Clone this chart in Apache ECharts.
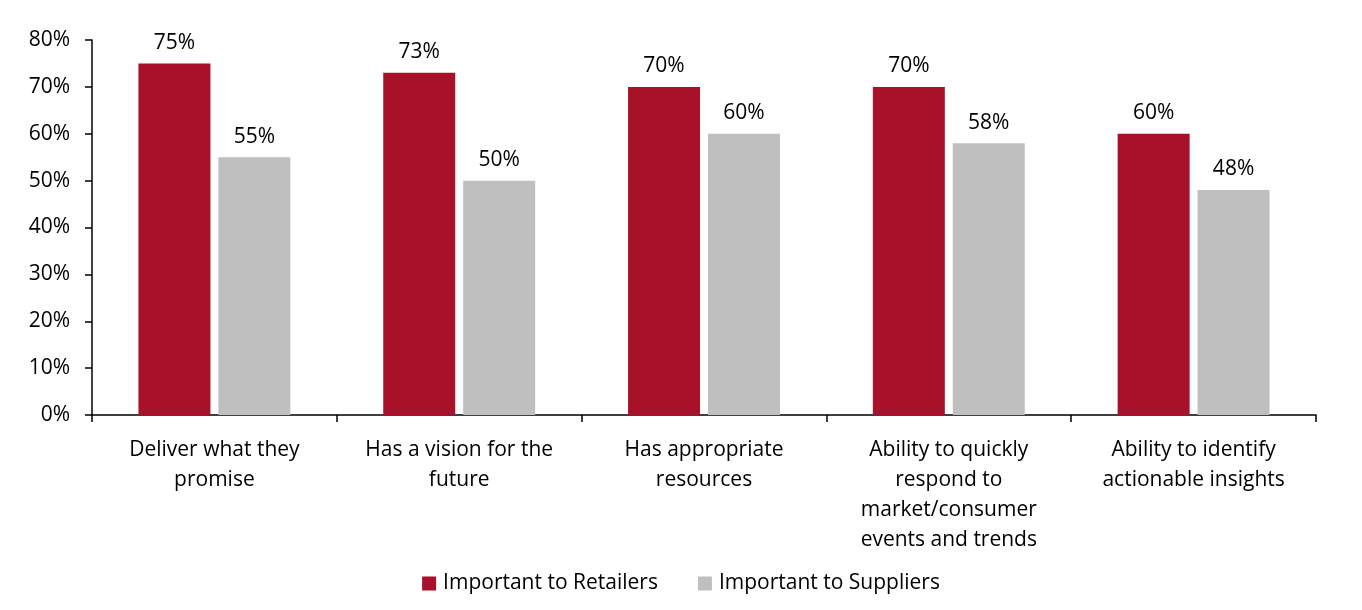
<!DOCTYPE html>
<html><head><meta charset="utf-8">
<script src="https://cdn.jsdelivr.net/npm/echarts@6/dist/echarts.min.js"></script>
<style>html,body{margin:0;padding:0;background:#fff}#c{width:1362px;height:610px}</style>
</head><body><div id="c"></div>
<script>
const categories = ["Deliver what they\npromise", "Has a vision for the\nfuture", "Has appropriate\nresources", "Ability to quickly\nrespond to\nmarket/consumer\nevents and trends", "Ability to identify\nactionable insights"];
const retailers = [75, 73, 70, 70, 60];
const suppliers = [55, 50, 60, 58, 48];
const seriesNames = ["Important to Retailers", "Important to Suppliers"];
const font = "'Open Sans', 'Liberation Sans', sans-serif";
const fs = 21;
const chart = echarts.init(document.getElementById('c'));
const lbl = {show:true, position:'top', distance:10, formatter:'{c}%', fontSize:fs, color:'#000', fontFamily:font};
chart.setOption({
  animation:false,
  textStyle:{fontFamily:font},
  grid:{left:92, right:46, top:40, bottom:195, containLabel:false},
  legend:{bottom:11, left:'center', itemWidth:14, itemHeight:14, itemGap:40, icon:'rect',
    textStyle:{fontSize:fs, color:'#000', fontFamily:font, padding:[0,0,0,2]}, data:seriesNames},
  xAxis:{type:'category', data:categories,
    axisLine:{lineStyle:{color:'#000', width:1.5}},
    axisTick:{show:true, length:7, lineStyle:{color:'#000', width:1.5}},
    axisLabel:{fontSize:fs, color:'#000', lineHeight:30, margin:20, interval:0, fontFamily:font}},
  yAxis:{type:'value', min:0, max:80, interval:10,
    axisLine:{show:true, lineStyle:{color:'#000', width:1.5}},
    axisTick:{show:true, length:7, lineStyle:{color:'#000', width:1.5}},
    splitLine:{show:false},
    axisLabel:{formatter:'{value}%', fontSize:fs, color:'#000', margin:22, fontFamily:font}},
  series:[
    {name:seriesNames[0], type:'bar', data:retailers, barWidth:72, barGap:'11%', itemStyle:{color:'#A8112A'}, label:lbl},
    {name:seriesNames[1], type:'bar', data:suppliers, barWidth:72, itemStyle:{color:'#BFBFBF'}, label:lbl}
  ]
});
</script></body></html>
